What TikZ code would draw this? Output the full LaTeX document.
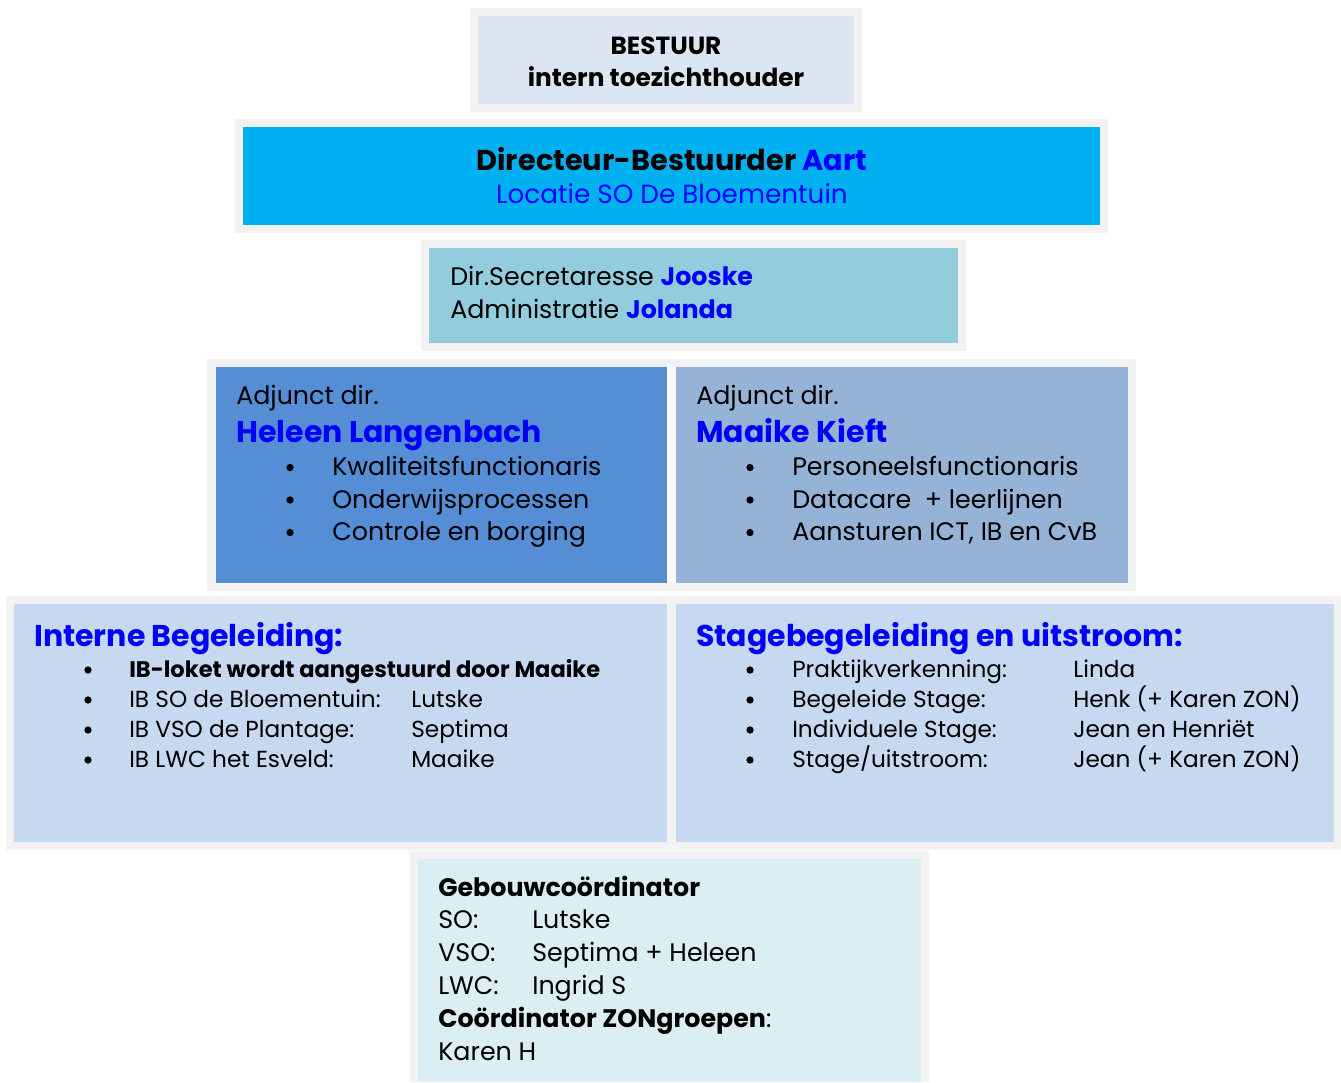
\documentclass[tikz,border=0pt]{standalone}
\usepackage{fontspec}
\setmainfont{Poppins}
\usetikzlibrary{positioning}

\definecolor{rim}{HTML}{F2F2F2}
\definecolor{bestuur}{HTML}{DCE6F2}
\definecolor{directeur}{HTML}{00B0F0}
\definecolor{secretariaat}{HTML}{93CDDD}
\definecolor{adjunctA}{HTML}{558ED5}
\definecolor{adjunctB}{HTML}{95B3D7}
\definecolor{begeleiding}{HTML}{C6D9F1}
\definecolor{gebouw}{HTML}{DBEEF4}
\definecolor{naam}{HTML}{0000FF}

\begin{document}
\begin{tikzpicture}[x=0.75pt,y=-0.75pt,
	txt/.style={anchor=base west, inner sep=0pt, font=\fontsize{19}{23}\selectfont},
	kop/.style={anchor=base west, inner sep=0pt, font=\fontsize{22.5}{27}\selectfont\bfseries, text=naam},
	klein/.style={anchor=base west, inner sep=0pt, font=\fontsize{17.4}{21}\selectfont},
	punt/.style={circle, fill=black, inner sep=0pt, minimum size=5.5pt},
	midden/.style={anchor=base, inner sep=0pt}]

	\useasboundingbox (0,0) rectangle (1341,1082);

	% kaders
	\fill[rim] (470,8) rectangle (862,112);
	\fill[bestuur] (478,16) rectangle (854,104);
	\fill[rim] (235,119) rectangle (1108,233);
	\fill[directeur] (243,127) rectangle (1100,225);
	\fill[rim] (421,240) rectangle (966,351);
	\fill[secretariaat] (429,248) rectangle (958,343);
	\fill[rim] (207,359) rectangle (1136,591);
	\fill[white!60!rim] (667,367) rectangle (676,583);
	\fill[adjunctA] (216,367) rectangle (667,583);
	\fill[adjunctB] (676,367) rectangle (1128,583);
	\fill[rim] (6,596) rectangle (1341,850);
	\fill[begeleiding] (14,604) rectangle (667,842);
	\fill[begeleiding] (676,604) rectangle (1334,842);
	\fill[rim] (410,851) rectangle (929,1082);
	\fill[gebouw] (418,859) rectangle (921,1082);

	% bestuur en directie
	\node[midden, font=\fontsize{18.6}{22}\selectfont\bfseries] (bestuur) at (666,54) {BESTUUR};
	\node[midden, font=\fontsize{18.6}{22}\selectfont\bfseries] (toezicht) at (666,86) {intern toezichthouder};
	\node[midden, font=\fontsize{21.6}{26}\selectfont\bfseries] (directeur) at (672,170) {Directeur-Bestuurder \textcolor{naam}{Aart}};
	\node[midden, font=\fontsize{19.7}{24}\selectfont, text=naam] (locatie) at (672,203) {Locatie SO De Bloementuin};

	\node[txt] (secretaresse) at (450,285) {Dir.Secretaresse \textcolor{naam}{\bfseries Jooske}};
	\node[txt] (administratie) at (450,318) {Administratie \textcolor{naam}{\bfseries Jolanda}};

	% adjuncten
	\node[txt] (adjunctA) at (236,404) {Adjunct dir.};
	\node[kop] (heleen) at (236,442) {Heleen Langenbach};
	\foreach \t [count=\i] in {Kwaliteitsfunctionaris, Onderwijsprocessen, Controle en borging}{
		\node[punt] (puntA\i) at (290,435+\i*32.5) {};
		\node[txt] (taakA\i) at (332,443+\i*32.5) {\t};
	}
	\node[txt] (adjunctB) at (696,404) {Adjunct dir.};
	\node[kop] (maaike) at (696,442) {Maaike Kieft};
	\foreach \t [count=\i] in {Personeelsfunctionaris, Datacare\ \ + leerlijnen, {Aansturen ICT, IB en CvB}}{
		\node[punt] (puntB\i) at (750,435+\i*32.5) {};
		\node[txt] (taakB\i) at (792,443+\i*32.5) {\t};
	}

	% begeleiding
	\node[kop] (ib) at (34,646) {Interne Begeleiding:};
	\node[punt] (ibpunt1) at (88,670) {};
	\node[klein, font=\fontsize{16.9}{20}\selectfont\bfseries] (ibtaak1) at (129,677) {IB-loket wordt aangestuurd door Maaike};
	\foreach \a/\b [count=\i from 2] in {IB SO de Bloementuin:/Lutske, IB VSO de Plantage:/Septima, IB LWC het Esveld:/Maaike}{
		\node[punt] (ibpunt\i) at (88,640+\i*30) {};
		\node[klein] (ibtaak\i) at (129,647+\i*30) {\a};
		\node[klein] (ibnaam\i) at (411,647+\i*30) {\b};
	}
	\node[kop] (stage) at (696,646) {Stagebegeleiding en uitstroom:};
	\foreach \a/\b [count=\i] in {Praktijkverkenning:/Linda, Begeleide Stage:/{Henk (+ Karen ZON)}, Individuele Stage:/{Jean en Henriët}, {Stage/uitstroom:}/{Jean (+ Karen ZON)}}{
		\node[punt] (stpunt\i) at (750,640+\i*30) {};
		\node[klein] (sttaak\i) at (792,647+\i*30) {\a};
		\node[klein] (stnaam\i) at (1073,647+\i*30) {\b};
	}

	% gebouw
	\node[txt, font=\fontsize{19}{23}\selectfont\bfseries] (gebouwkop) at (438,896) {Gebouwcoördinator};
	\foreach \a/\b [count=\i] in {SO:/Lutske, VSO:/Septima + Heleen, LWC:/Ingrid S}{
		\node[txt] (locnaam\i) at (438,896+\i*32.8) {\a};
		\node[txt] (locpers\i) at (532,896+\i*32.8) {\b};
	}
	\node[txt] (zonkop) at (438,1027) {\textbf{Coördinator ZONgroepen}:};
	\node[txt] (zonpers) at (438,1060) {Karen H};

\end{tikzpicture}
\end{document}
